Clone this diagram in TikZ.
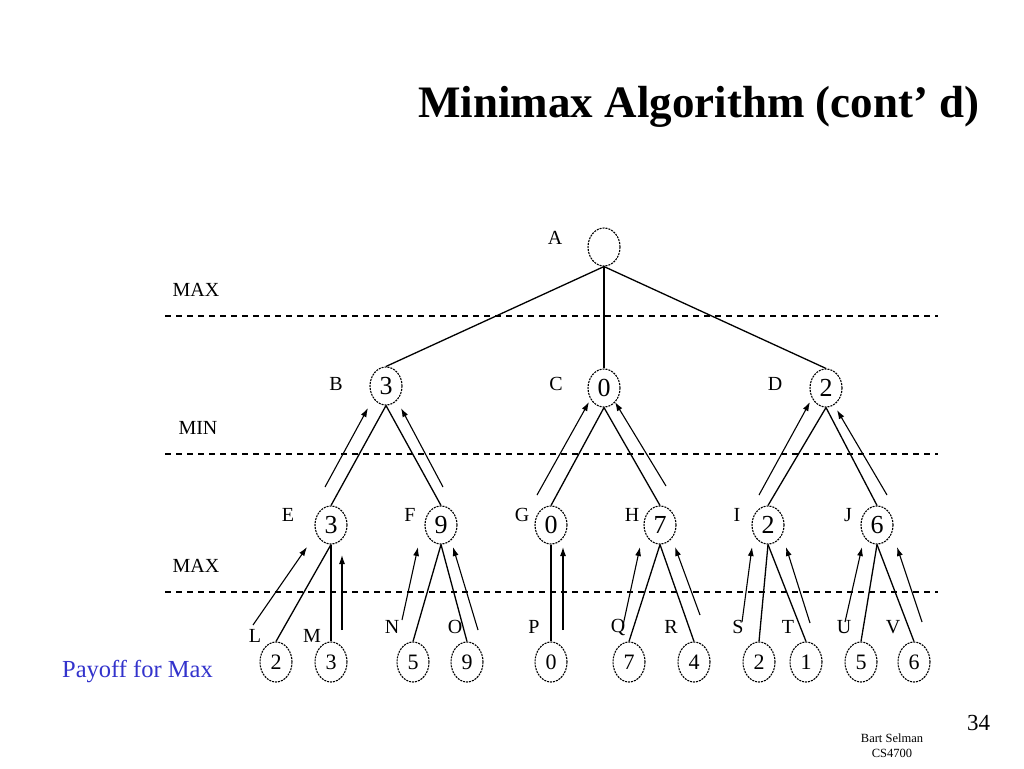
\documentclass[tikz,border=0pt]{standalone}
\usepackage{fontspec}
\setmainfont{Liberation Serif}
\usetikzlibrary{shapes.geometric,arrows.meta}
\begin{document}
\begin{tikzpicture}[x=1pt,y=-1pt,
 nd/.style={ellipse,draw,dash pattern=on 2pt off 1pt,line width=1.1pt,minimum width=32pt,minimum height=38pt,inner sep=0pt,font=\fontsize{26}{26}\selectfont},
 leaf/.style={nd,minimum height=40pt,font=\fontsize{22}{22}\selectfont},
 lbl/.style={font=\fontsize{20}{20}\selectfont,inner sep=0pt},
 edge/.style={line width=1.3pt},
 arr/.style={line width=1.1pt,-{Latex[length=9pt,width=6pt]}},
 sep/.style={line width=1.3pt,dash pattern=on 6pt off 5pt}]
\useasboundingbox (0,0) rectangle (1024,768);
\fill[white] (0,0) rectangle (1024,768);
% title
\node[anchor=base,inner sep=0pt,font=\fontsize{45}{45}\selectfont\bfseries] (title) at (699,117) {Minimax Algorithm (cont’ d)};
% level separators
\coordinate (s1a) at (165,316); \coordinate (s1b) at (938,316);
\coordinate (s2a) at (165,454); \coordinate (s2b) at (938,454);
\coordinate (s3a) at (165,592); \coordinate (s3b) at (938,592);
\draw[sep] (s1a) -- (s1b);
\draw[sep] (s2a) -- (s2b);
\draw[sep] (s3a) -- (s3b);
\node[lbl] (lmax1) at (196,290) {MAX};
\node[lbl] (lmin) at (198,428) {MIN};
\node[lbl] (lmax2) at (196,566) {MAX};
% nodes
\node[nd] (A) at (604,247) {};
\node[nd] (B) at (386,386) {3};
\node[nd] (C) at (604,388) {0};
\node[nd] (D) at (826,388) {2};
\node[nd] (E) at (331,525) {3};
\node[nd] (F) at (441,525) {9};
\node[nd] (G) at (551,525) {0};
\node[nd] (H) at (660,525) {7};
\node[nd] (I) at (768,525) {2};
\node[nd] (J) at (877,525) {6};
\node[leaf] (L) at (276,662) {2};
\node[leaf] (M) at (331,662) {3};
\node[leaf] (N) at (413,662) {5};
\node[leaf] (O) at (467,662) {9};
\node[leaf] (P) at (551,662) {0};
\node[leaf] (Q) at (629,662) {7};
\node[leaf] (R) at (694,662) {4};
\node[leaf] (S) at (759,662) {2};
\node[leaf] (T) at (806,662) {1};
\node[leaf] (U) at (861,662) {5};
\node[leaf] (V) at (914,662) {6};
% letters
\node[lbl] (tA) at (555,238) {A};
\node[lbl] (tB) at (336,384) {B};
\node[lbl] (tC) at (556,384) {C};
\node[lbl] (tD) at (775,384) {D};
\node[lbl] (tE) at (288,515) {E};
\node[lbl] (tF) at (410,515) {F};
\node[lbl] (tG) at (522,515) {G};
\node[lbl] (tH) at (632,515) {H};
\node[lbl] (tI) at (737,515) {I};
\node[lbl] (tJ) at (848,515) {J};
\node[lbl] (tL) at (255,636) {L};
\node[lbl] (tM) at (312,636) {M};
\node[lbl] (tN) at (392,627) {N};
\node[lbl] (tO) at (455,627) {O};
\node[lbl] (tP) at (534,627) {P};
\node[lbl] (tQ) at (618,627) {Q};
\node[lbl] (tR) at (671,627) {R};
\node[lbl] (tS) at (738,627) {S};
\node[lbl] (tT) at (788,627) {T};
\node[lbl] (tU) at (844,627) {U};
\node[lbl] (tV) at (893,627) {V};
% edges
\foreach \p/\c in {A/B,A/C,A/D,B/E,B/F,C/G,C/H,D/I,D/J,E/L,E/M,F/N,F/O,G/P,H/Q,H/R,I/S,I/T,J/U,J/V}
  \draw[edge] (\p.south) -- (\c.north);
% arrows (value propagation)
\coordinate (a1s) at (325,487); \coordinate (a1e) at (368,408);
\coordinate (a2s) at (443,487); \coordinate (a2e) at (401,408);
\coordinate (a3s) at (537,495); \coordinate (a3e) at (589,402);
\coordinate (a4s) at (666,486); \coordinate (a4e) at (615,402);
\coordinate (a5s) at (759,495); \coordinate (a5e) at (810,402);
\coordinate (a6s) at (887,495); \coordinate (a6e) at (837,410);
\coordinate (b1s) at (253,625); \coordinate (b1e) at (307,547);
\coordinate (b2s) at (342,630); \coordinate (b2e) at (342,555);
\coordinate (b3s) at (402,620); \coordinate (b3e) at (418,547);
\coordinate (b4s) at (478,630); \coordinate (b4e) at (453,547);
\coordinate (b5s) at (563,630); \coordinate (b5e) at (563,547);
\coordinate (b6s) at (622,630); \coordinate (b6e) at (640,547);
\coordinate (b7s) at (700,615); \coordinate (b7e) at (675,547);
\coordinate (b8s) at (742,622); \coordinate (b8e) at (752,547);
\coordinate (b9s) at (810,623); \coordinate (b9e) at (786,547);
\coordinate (b10s) at (845,622); \coordinate (b10e) at (862,547);
\coordinate (b11s) at (922,622); \coordinate (b11e) at (897,547);
\foreach \k in {a1,a2,a3,a4,a5,a6,b1,b2,b3,b4,b5,b6,b7,b8,b9,b10,b11}
  \draw[arr] (\k s) -- (\k e);
% footer texts
\node[anchor=base west,inner sep=0pt,text={rgb,255:red,51;green,51;blue,204},font=\fontsize{24.5}{24.5}\selectfont] (payoff) at (62,677) {Payoff for Max};
\node[anchor=base west,inner sep=0pt,font=\fontsize{23}{23}\selectfont] (page) at (967,730) {34};
\node[anchor=base,inner sep=0pt,font=\fontsize{12.5}{12.5}\selectfont] (auth) at (892,742) {Bart Selman};
\node[anchor=base,inner sep=0pt,font=\fontsize{12.5}{12.5}\selectfont] (course) at (892,757) {CS4700};
\end{tikzpicture}
\end{document}
